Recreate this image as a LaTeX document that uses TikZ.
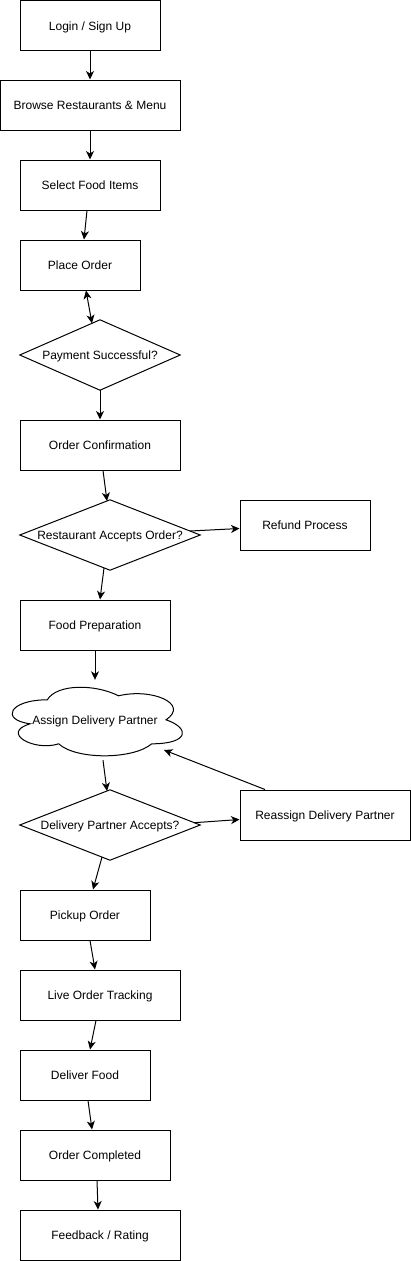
\documentclass[tikz,border=0pt]{standalone}
\usepackage{fontspec}
\setmainfont{Liberation Sans}
\usetikzlibrary{arrows.meta}
\begin{document}
\begin{tikzpicture}[x=1pt,y=-1pt,
  every node/.style={font=\fontsize{12}{14}\selectfont, inner sep=0pt, text height=11.5pt, text depth=2pt},
  box/.style={draw, line width=1pt, rectangle, minimum height=50pt},
  dia/.style={rectangle, minimum height=70pt},
  diaedge/.style={draw, line width=1pt, line join=miter},
  conn/.style={line width=1pt, -{Stealth[length=8.5pt,width=8pt,inset=2.5pt]}},
  conn2/.style={line width=1pt, {Stealth[length=8.5pt,width=8pt,inset=2.5pt]}-{Stealth[length=8.5pt,width=8pt,inset=2.5pt]}}]
\useasboundingbox (0,0) rectangle (411,1261);
% nodes
\node[box, minimum width=140pt, minimum height=49.5pt] (login) at (90,25.25) {Login / Sign Up};
\node[box, minimum width=180pt] (browse) at (90,105) {Browse Restaurants \& Menu};
\node[box, minimum width=140pt] (select) at (90,185) {Select Food Items};
\node[box, minimum width=120pt] (place) at (80,265) {Place Order};
\node[dia, minimum width=160pt] (pay) at (100,355) {Payment Successful?};
\draw[diaedge] (pay.north) -- (pay.east) -- (pay.south) -- (pay.west) -- cycle;
\node[box, minimum width=160pt] (conf) at (100,445) {Order Confirmation};
\node[dia, minimum width=180pt] (ra) at (110,535) {Restaurant Accepts Order?};
\draw[diaedge] (ra.north) -- (ra.east) -- (ra.south) -- (ra.west) -- cycle;
\node[box, minimum width=130pt] (refund) at (305,525) {Refund Process};
\node[box, minimum width=150pt] (prep) at (95,625) {Food Preparation};
\node[rectangle, minimum width=190pt, minimum height=80pt] (cl) at (95,720) {Assign Delivery Partner};
\draw[line width=1pt, shift={(cl.north west)}, x=190pt, y=-80pt]
  (0.25,0.25) .. controls (0.05,0.25) and (0,0.5) .. (0.16,0.55)
  .. controls (0,0.66) and (0.18,0.9) .. (0.31,0.8)
  .. controls (0.4,1) and (0.7,1) .. (0.8,0.8)
  .. controls (1,0.8) and (1,0.6) .. (0.875,0.5)
  .. controls (1,0.3) and (0.8,0.1) .. (0.625,0.2)
  .. controls (0.5,0.05) and (0.3,0.05) .. (0.25,0.25) -- cycle;
\node[dia, minimum width=180pt] (dpa) at (110,825) {Delivery Partner Accepts?};
\draw[diaedge] (dpa.north) -- (dpa.east) -- (dpa.south) -- (dpa.west) -- cycle;
\node[box, minimum width=170pt] (reassign) at (325,815) {Reassign Delivery Partner};
\node[box, minimum width=130pt] (pickup) at (85,915) {Pickup Order};
\node[box, minimum width=160pt] (live) at (100,995) {Live Order Tracking};
\node[box, minimum width=130pt] (deliver) at (85,1075) {Deliver Food};
\node[box, minimum width=150pt] (done) at (95,1155) {Order Completed};
\node[box, minimum width=160pt] (fb) at (100,1235) {Feedback / Rating};
% connectors
\draw[conn] (login.south) -- (browse.north);
\draw[conn] (browse.south) -- (select.north);
\draw[conn] ([xshift=-3pt]select.south) -- ([xshift=4pt]place.north);
\draw[conn2] ([xshift=6pt]place.south) -- ([xshift=-8pt,yshift=-3.5pt]pay.north);
\draw[conn] (pay.south) -- (conf.north);
\draw[conn] ([xshift=3pt]conf.south) -- ([xshift=-3pt,yshift=-1.2pt]ra.north);
\draw[conn] ([xshift=-10pt,yshift=4pt]ra.east) -- ([yshift=-3.5pt]refund.west);
\draw[conn] ([xshift=-6pt,yshift=2.3pt]ra.south) -- ([xshift=5pt]prep.north);
\draw[conn] (prep.south) -- (cl.north);
\draw[conn] ([xshift=8pt]cl.south) -- ([xshift=-3pt,yshift=-1.2pt]dpa.north);
\draw[conn] ([xshift=-6pt,yshift=2.3pt]dpa.east) -- ([yshift=-4.5pt]reassign.west);
\draw[conn] ([xshift=-60pt]reassign.north) -- ([xshift=69pt,yshift=-30pt]cl.center);
\draw[conn] ([xshift=-8pt,yshift=3.1pt]dpa.south) -- ([xshift=8pt]pickup.north);
\draw[conn] ([xshift=5pt]pickup.south) -- ([xshift=-5pt]live.north);
\draw[conn] ([xshift=-4pt]live.south) -- ([xshift=5pt]deliver.north);
\draw[conn] ([xshift=3pt]deliver.south) -- ([xshift=-3pt]done.north);
\draw[conn] ([xshift=2pt]done.south) -- ([xshift=-2pt]fb.north);
\end{tikzpicture}
\end{document}
